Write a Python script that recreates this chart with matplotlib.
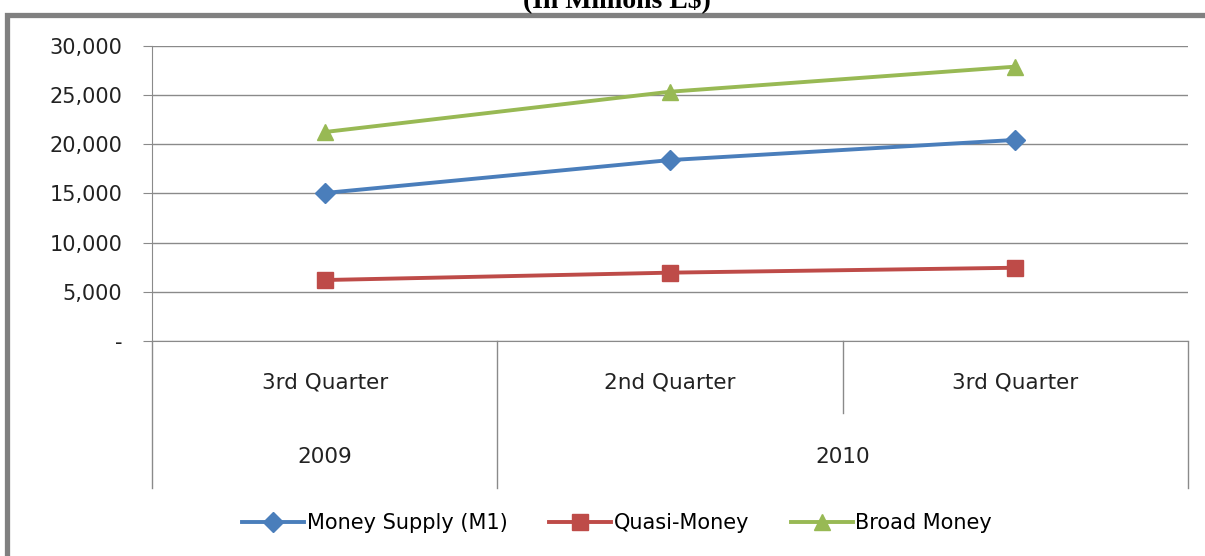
import matplotlib.pyplot as plt
from matplotlib.transforms import blended_transform_factory
from matplotlib.ticker import FuncFormatter
from matplotlib.patches import Rectangle

# values (millions L$)
quarters = ["3rd Quarter", "2nd Quarter", "3rd Quarter"]
years = ["2009", "2010"]
year_span = [(0, 0), (1, 2)]
money_supply = [15050, 18400, 20450]
quasi_money = [6200, 6950, 7450]
broad_money = [21250, 25350, 27900]

W, H = 1205, 556
fig = plt.figure(figsize=(W / 100, H / 100), dpi=100)
ax = fig.add_axes([152 / W, 1 - 341 / H, (1188 - 152) / W, (341 - 46) / H])

grey = "#8a8a8a"
x = list(range(len(quarters)))
ax.plot(x, money_supply, color="#4A7EBB", lw=2.8, marker="D", ms=10, label="Money Supply (M1)")
ax.plot(x, quasi_money, color="#BE4B48", lw=2.8, marker="s", ms=11, label="Quasi-Money")
ax.plot(x, broad_money, color="#98B954", lw=2.8, marker="^", ms=12, label="Broad Money")

ax.set_xlim(-0.5, len(quarters) - 0.5)
ax.set_ylim(0, 30000)
ax.set_yticks(range(0, 30001, 5000))
ax.yaxis.set_major_formatter(FuncFormatter(lambda v, p: "-" if v == 0 else f"{int(v):,}"))
ax.grid(axis="y", color=grey, lw=1)
ax.set_axisbelow(True)
ax.tick_params(axis="y", length=6.5, color=grey, pad=15, labelsize=15, labelcolor="#222222")
ax.set_xticks([])
for s in ["top", "right"]:
    ax.spines[s].set_visible(False)
ax.spines["left"].set_color(grey)
ax.spines["bottom"].set_color(grey)

# two-level category axis
tr = blended_transform_factory(ax.transData, ax.transAxes)
for i, q in enumerate(quarters):
    ax.text(i, -0.139, q, transform=tr, ha="center", va="center", fontsize=15.5, color="#222222")
for y, (a, b) in zip(years, year_span):
    ax.text((a + b) / 2, -0.393, y, transform=tr, ha="center", va="center", fontsize=15.5, color="#222222")
for b in [-0.5, 0.5, 1.5, 2.5]:
    low = -0.244 if b == 1.5 else -0.498
    ax.plot([b, b], [0, low], transform=tr, color=grey, lw=1, clip_on=False)

fig.legend(loc="center", bbox_to_anchor=(617 / W, 1 - 523 / H), ncol=3, frameon=False,
           fontsize=15, handlelength=3.0, columnspacing=2.0, handletextpad=0.1)

# outer frame of the original chart, mostly cropped away
fig.patches.append(Rectangle((7, -20), W + 20, H - 15 + 20, transform=None,
                             fill=False, ec="#808080", lw=3.8))
fig.text(617 / W, 1 - 7 / H, "(In Millions L$)", ha="center", va="baseline",
         fontsize=20, fontweight="bold", family="Liberation Serif")

fig.savefig("out.png", dpi=100)
